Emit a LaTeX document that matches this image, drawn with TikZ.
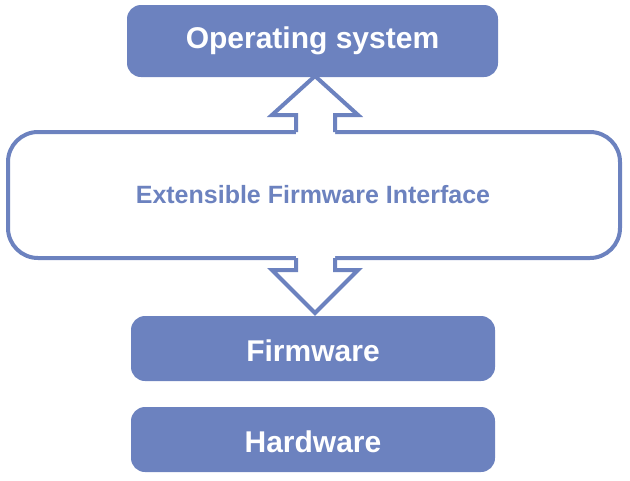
\documentclass[tikz,border=0pt]{standalone}
\usepackage{fontspec}
\setmainfont{Liberation Sans}
\definecolor{efiblue}{HTML}{6C82BF}
\begin{document}
\begin{tikzpicture}[x=1pt,y=-1pt,
  solidbox/.style={fill=efiblue,rounded corners=14pt,text=white,font=\bfseries\fontsize{30}{34}\selectfont},
  arrowline/.style={draw=efiblue,line width=4pt,line join=miter}]
\useasboundingbox (0,0) rectangle (630,480);
\fill[solidbox] (127,5) rectangle (498,77);
\node[text=white,font=\bfseries\fontsize{30}{34}\selectfont] (os) at (312.5,41) {Operating system};
\draw[draw=efiblue,line width=4pt,fill=white,rounded corners=30pt] (8,132) rectangle (620,258);
\node[text=efiblue,font=\bfseries\fontsize{25}{30}\selectfont] (efi) at (313,195) {Extensible Firmware Interface};
\fill[solidbox] (131,316) rectangle (495,381);
\node[text=white,font=\bfseries\fontsize{30}{34}\selectfont] (fw) at (313,351) {Firmware};
\fill[solidbox] (131,407) rectangle (495,472);
\node[text=white,font=\bfseries\fontsize{30}{34}\selectfont] (hw) at (313,442) {Hardware};
% up arrow
\fill[white] (296,140) -- (296,115) -- (272,115) -- (315,76) -- (358,115) -- (335,115) -- (335,140) -- cycle;
\draw[arrowline] (296,132) -- (296,115) -- (272,115) -- (315,76) -- (358,115) -- (335,115) -- (335,132);
% down arrow
\fill[white] (296,250) -- (296,270) -- (272,270) -- (315,313) -- (358,270) -- (335,270) -- (335,250) -- cycle;
\draw[arrowline] (296,258) -- (296,270) -- (272,270) -- (315,313) -- (358,270) -- (335,270) -- (335,258);
\end{tikzpicture}
\end{document}
